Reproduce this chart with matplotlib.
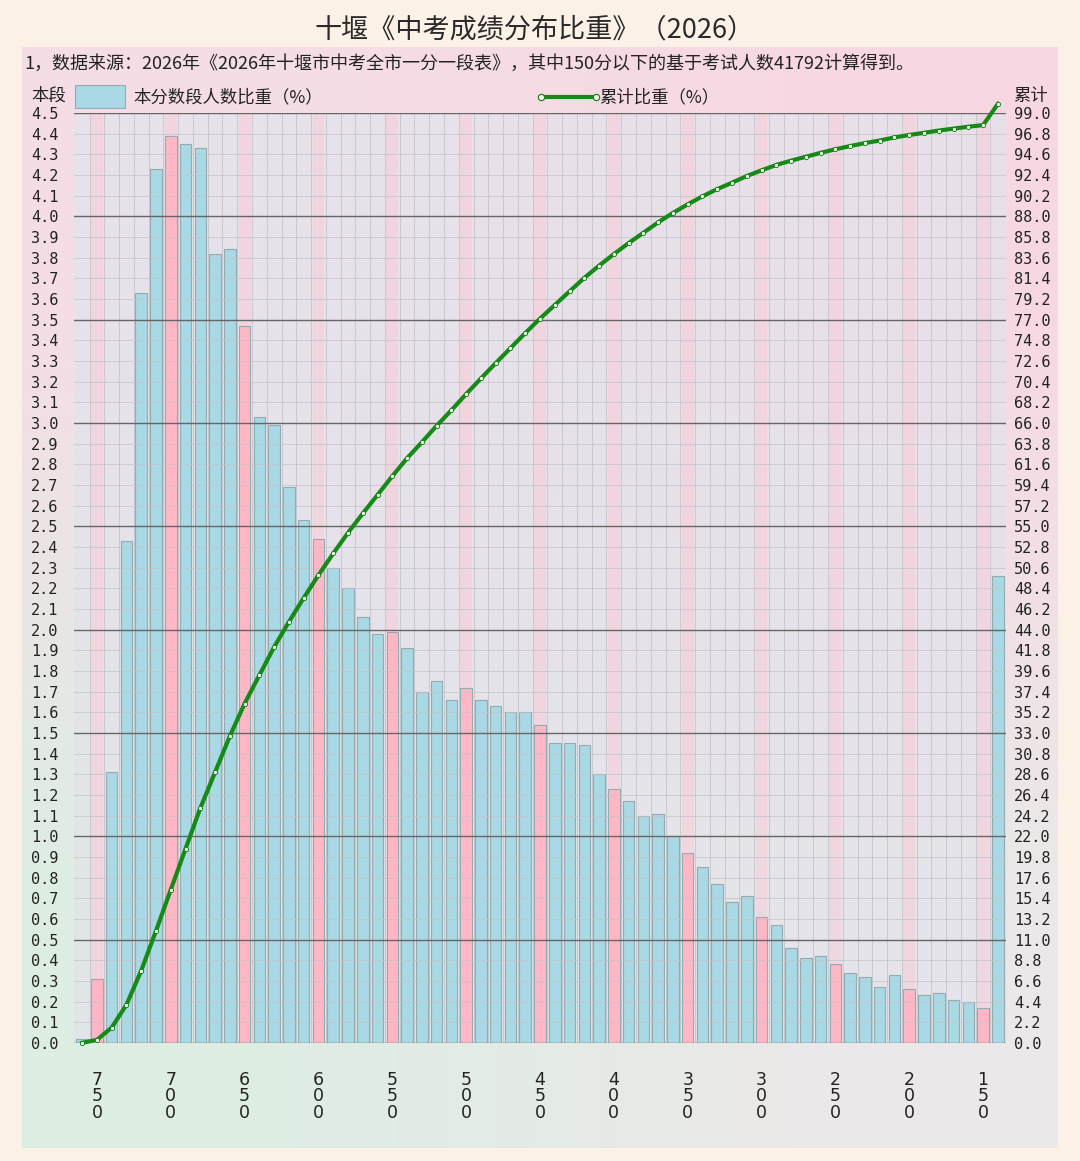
# 十堰中考成绩分布比重 (2026) - bar + cumulative line

import matplotlib.pyplot as plt
from matplotlib.ticker import FormatStrFormatter
import numpy as np

plt.rcParams['font.family'] = ['Noto Sans CJK SC', 'DejaVu Sans']

# score buckets: 760 (top), 750 ... 150, then "below 150"
scores = list(range(760, 139, -10))
share = [0.02, 0.31, 1.31, 2.43, 3.63, 4.23, 4.39, 4.35, 4.33, 3.82,
         3.84, 3.47, 3.03, 2.99, 2.69, 2.53, 2.44, 2.30, 2.20, 2.06,
         1.98, 1.99, 1.91, 1.70, 1.75, 1.66, 1.72, 1.66, 1.63, 1.60,
         1.60, 1.54, 1.45, 1.45, 1.44, 1.30, 1.23, 1.17, 1.10, 1.11,
         1.00, 0.92, 0.85, 0.77, 0.68, 0.71, 0.61, 0.57, 0.46, 0.41,
         0.42, 0.38, 0.34, 0.32, 0.27, 0.33, 0.26, 0.23, 0.24, 0.21,
         0.20, 0.17, 2.26]
cum_share = np.cumsum(share)  # 累计比重
tick_scores = [750, 700, 650, 600, 550, 500, 450, 400, 350, 300, 250, 200, 150]

title = '十堰《中考成绩分布比重》（2026）'
note = '1，数据来源：2026年《2026年十堰市中考全市一分一段表》，其中150分以下的基于考试人数41792计算得到。'

W, H = 1080, 1161
fig = plt.figure(figsize=(W / 100, H / 100), dpi=100)
fig.patch.set_facecolor('#fcf1e7')

# gradient panel behind everything
bg = fig.add_axes([22 / W, 1 - 1148 / H, (1058 - 22) / W, (1148 - 47) / H], zorder=-10)
corners = np.array([[[0.96, 0.87, 0.90], [0.97, 0.85, 0.89]],
                    [[0.87, 0.93, 0.89], [0.92, 0.91, 0.91]]])
bg.imshow(corners, aspect='auto', interpolation='bilinear', extent=(0, 1, 0, 1), origin='upper')
bg.axis('off')

ax = fig.add_axes([74 / W, 1 - 1043 / H, (1006 - 74) / W, (1043 - 113) / H])
ax.set_facecolor((0.89, 0.89, 0.92, 0.75))
x = np.arange(len(share))
pink = [(s % 50 == 0 and s >= 150) for s in scores]

for i in x:
    if pink[i]:
        ax.axvspan(i - 0.4, i + 0.4, color='#fbcbd6', alpha=0.55, lw=0, zorder=0.5)

bar_colors = ['#ffb7c5' if p else '#a9d9e4' for p in pink]
ax.bar(x, share, width=0.78, color=bar_colors, edgecolor='#93abb1', linewidth=0.8, zorder=2)

# grid
for v in np.arange(0, 4.51, 0.1):
    major = abs(v * 2 - round(v * 2)) < 1e-6
    ax.axhline(v, color='#666666' if major else '#c2c2ca', lw=1.0 if major else 0.7,
               alpha=1 if major else 0.7, zorder=3)
for i in x[:-1]:
    ax.axvline(i + 0.5, color='#bdbdc5', lw=0.7, alpha=0.7, zorder=1)

ax.set_xlim(-0.55, len(share) - 0.45)
ax.set_ylim(0, 4.5)
ax.set_yticks(np.arange(0, 4.51, 0.1))
ax.yaxis.set_major_formatter(FormatStrFormatter('%.1f'))
ax.set_xticks([scores.index(s) for s in tick_scores])
ax.set_xticklabels(['\n'.join(str(s)) for s in tick_scores], fontsize=12.5,
                   family='DejaVu Sans', linespacing=0.9, color='#222222')
ax.tick_params(axis='x', length=0, pad=20)
ax.tick_params(axis='y', length=0, pad=11, labelsize=11, labelcolor='#222222')
for lab in ax.get_yticklabels():
    lab.set_family('DejaVu Sans Mono')
for sp in ax.spines.values():
    sp.set_visible(False)

ax2 = ax.twinx()
ax2.set_ylim(0, 99)
ax2.set_yticks(np.arange(0, 99.01, 2.2))
ax2.yaxis.set_major_formatter(FormatStrFormatter('%.1f'))
ax2.tick_params(axis='y', length=0, pad=6, labelsize=11, labelcolor='#222222')
for lab in ax2.get_yticklabels():
    lab.set_family('DejaVu Sans Mono')
for sp in ax2.spines.values():
    sp.set_visible(False)
ax2.plot(x, cum_share, color='#168a16', lw=3, marker='o', ms=3,
         mfc='white', mec='#168a16', mew=0.7, clip_on=False, zorder=5)

# titles / labels
fig.text(535 / W, 1 - 30 / H, title, ha='center', va='center', fontsize=19.5, color='#2a2a2a')
fig.text(24 / W, 1 - 64 / H, note, ha='left', va='center', fontsize=13, color='#222222')
fig.text(49 / W, 1 - 96 / H, '本段', ha='center', va='center', fontsize=12.5, color='#222222')
fig.text(1031 / W, 1 - 96 / H, '累计', ha='center', va='center', fontsize=12.5, color='#222222')

# legend drawn by hand
fig.patches.append(plt.Rectangle((75 / W, 1 - 108 / H), 50 / W, 23 / H, transform=fig.transFigure,
                                 facecolor='#a9d9e4', edgecolor='#93abb1', lw=0.8))
fig.text(133 / W, 1 - 97 / H, '本分数段人数比重（%）', ha='left', va='center', fontsize=12.5, color='#222222')
fig.add_artist(plt.Line2D([541 / W, 596 / W], [1 - 97 / H, 1 - 97 / H], transform=fig.transFigure,
                          color='#168a16', lw=3, marker='o', ms=4.5, mfc='white', mec='#168a16', mew=0.9))
fig.text(599 / W, 1 - 97 / H, '累计比重（%）', ha='left', va='center', fontsize=12.5, color='#222222')

fig.savefig('out.png', dpi=100)
